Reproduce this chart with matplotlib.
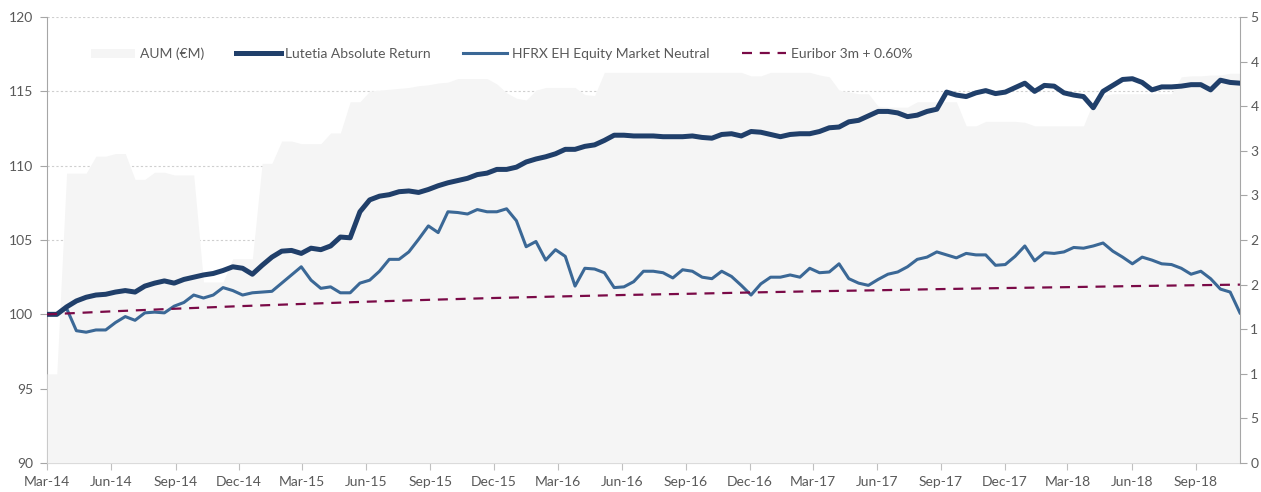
import numpy as np
import pandas as pd
import matplotlib
matplotlib.use("Agg")
import matplotlib.pyplot as plt
import matplotlib.dates as mdates
from matplotlib.patches import Patch
from matplotlib.lines import Line2D

# ------------------------------------------------------------
# DATA (fortnightly points)
# ------------------------------------------------------------
START = "2014-03-01"
N_POINTS = 123

lutetia = [
    100.0, 100.0, 100.5, 100.9, 101.15, 101.3, 101.35, 101.5, 101.6, 101.5,
    101.9, 102.1, 102.25, 102.1, 102.35, 102.5, 102.65, 102.75, 102.95, 103.2,
    103.1, 102.7, 103.3, 103.85, 104.25, 104.3, 104.1, 104.45, 104.35, 104.6,
    105.2, 105.15, 106.9, 107.7, 107.95, 108.05, 108.25, 108.3, 108.2, 108.4,
    108.65, 108.85, 109.0, 109.15, 109.4, 109.5, 109.75, 109.75, 109.9, 110.25,
    110.45, 110.6, 110.8, 111.1, 111.1, 111.3, 111.4, 111.7, 112.05, 112.05,
    112.0, 112.0, 112.0, 111.95, 111.95, 111.95, 112.0, 111.9, 111.85, 112.1,
    112.15, 112.0, 112.3, 112.25, 112.1, 111.95, 112.1, 112.15, 112.15, 112.3,
    112.55, 112.6, 112.95, 113.05, 113.35, 113.65, 113.65, 113.55, 113.3, 113.4,
    113.65, 113.8, 114.95, 114.75, 114.65, 114.9, 115.05, 114.85, 114.95, 115.25,
    115.55, 115.0, 115.4, 115.35, 114.9, 114.75, 114.65, 113.9, 115.0, 115.4,
    115.8, 115.85, 115.6, 115.1, 115.3, 115.3, 115.35, 115.45, 115.45, 115.1,
    115.75, 115.6, 115.55,
]

hfrx = [
    100.0, 100.05, 100.4, 98.9, 98.8, 98.95, 98.95, 99.45, 99.85, 99.6,
    100.1, 100.15, 100.1, 100.55, 100.8, 101.3, 101.1, 101.3, 101.8, 101.6,
    101.3, 101.45, 101.5, 101.55, 102.1, 102.65, 103.2, 102.3, 101.75, 101.85,
    101.45, 101.45, 102.1, 102.3, 102.9, 103.7, 103.7, 104.2, 105.05, 105.95,
    105.5, 106.9, 106.85, 106.75, 107.05, 106.9, 106.9, 107.1, 106.3, 104.55,
    104.9, 103.65, 104.35, 103.9, 101.9, 103.1, 103.05, 102.8, 101.8, 101.85,
    102.2, 102.9, 102.9, 102.8, 102.45, 103.0, 102.9, 102.5, 102.4, 102.9,
    102.55, 101.95, 101.3, 102.05, 102.5, 102.5, 102.65, 102.5, 103.1, 102.8,
    102.85, 103.4, 102.4, 102.1, 101.95, 102.35, 102.7, 102.85, 103.2, 103.7,
    103.85, 104.2, 104.0, 103.8, 104.1, 104.0, 104.0, 103.3, 103.35, 103.9,
    104.6, 103.6, 104.15, 104.1, 104.2, 104.5, 104.45, 104.6, 104.8, 104.25,
    103.85, 103.4, 103.85, 103.65, 103.4, 103.35, 103.1, 102.7, 102.9, 102.4,
    101.7, 101.5, 100.1,
]

aum = [
    100, 100, 325, 325, 325, 344, 344, 347, 347, 318,
    318, 326, 326, 323, 323, 323, 203, 203, 203, 229,
    229, 229, 336, 336, 361, 361, 358, 358, 358, 370,
    370, 405, 405, 417, 418, 419, 420, 421, 423, 424,
    426, 427, 431, 431, 431, 431, 425, 415, 409, 407,
    418, 421, 421, 421, 421, 413, 412, 438, 438, 438,
    438, 438, 438, 438, 438, 438, 438, 438, 438, 438,
    438, 438, 434, 434, 438, 438, 438, 438, 438, 435,
    433, 418, 416, 414, 414, 400, 399, 399, 399, 405,
    405, 405, 405, 405, 378, 378, 383, 383, 383, 383,
    382, 378, 378, 378, 378, 378, 378, 405, 412, 414,
    414, 414, 414, 414, 414, 414, 433, 434, 434, 435,
    435, 437, 437,
]

euribor_dates = [
    "2014-03-01", "2014-06-01", "2014-09-01", "2014-12-01", "2015-03-01",
    "2015-06-01", "2015-09-01", "2015-12-01", "2016-03-01", "2016-06-01",
    "2016-09-01", "2016-12-01", "2017-03-01", "2017-06-01", "2017-09-01",
    "2017-12-01", "2018-03-01", "2018-06-01", "2018-09-01", "2018-11-03",
]
euribor = [
    100.0, 100.2, 100.38, 100.55, 100.7, 100.85, 100.98, 101.1, 101.2, 101.3,
    101.38, 101.47, 101.55, 101.62, 101.7, 101.77, 101.83, 101.9, 101.96, 102.0,
]

right_ticks = [0, 50, 100, 150, 200, 250, 300, 350, 400, 450, 500]
left_ticks = [90, 95, 100, 105, 110, 115, 120]

# ------------------------------------------------------------
# STYLE
# ------------------------------------------------------------
plt.rcParams["font.family"] = ["Lato", "DejaVu Sans"]
FS = 10
TXT = "#595959"
AXC = "#a6a6a6"
C_LUT = "#203F6A"
C_HFRX = "#3B6896"
C_EUR = "#7A0A47"
C_AUM = "#f5f5f5"

dates = pd.date_range(START, periods=N_POINTS, freq="14D")
eur_dates = pd.to_datetime(euribor_dates)

fig = plt.figure(figsize=(12.61, 4.92), dpi=100)
ax = fig.add_axes([0.0373, 0.0589, 0.9460, 0.9065])

# bottom layer: gridlines + left axis
ax.set_ylim(90, 120)
ax.set_yticks(left_ticks)
ax.grid(axis="y", color="#cfcfcf", linestyle=(0, (2, 2)), linewidth=0.8)
ax.set_axisbelow(True)

# middle layer: AUM area on the right axis
ax2 = ax.twinx()
ax2.fill_between(dates, aum, 0, color=C_AUM, linewidth=0)
ax2.set_ylim(0, 500)
ax2.set_yticks(right_ticks)
# the source picture is cropped right after the first digit of these labels
ax2.set_yticklabels([str(t)[0] for t in right_ticks])

# top layer: return lines on the left scale
ax3 = ax.twinx()
ax3.set_ylim(90, 120)
ax3.plot(dates, hfrx, color=C_HFRX, linewidth=2.2, solid_joinstyle="round")
ax3.plot(dates, lutetia, color=C_LUT, linewidth=3.6, solid_joinstyle="round")
ax3.plot(eur_dates, euribor, color=C_EUR, linewidth=1.6, linestyle=(0, (4.5, 3.5)))
ax3.axis("off")

ax.set_xlim(pd.Timestamp("2014-03-01"), pd.Timestamp("2018-11-03"))
ax.xaxis.set_major_locator(mdates.MonthLocator(bymonth=[3, 6, 9, 12]))
ax.xaxis.set_major_formatter(mdates.DateFormatter("%b-%y"))

ax.spines["top"].set_visible(False)
ax2.spines["top"].set_visible(False)
ax.spines["right"].set_visible(False)
ax2.spines["left"].set_visible(False)
ax2.spines["bottom"].set_visible(False)
ax.spines["left"].set_color(AXC)
ax.spines["bottom"].set_color("#c0c0c0")
ax2.spines["right"].set_color(AXC)

ax.tick_params(axis="y", colors=AXC, labelcolor=TXT, length=5, pad=5, labelsize=FS)
ax.tick_params(axis="x", colors="#c0c0c0", labelcolor=TXT, length=5, pad=4, labelsize=FS)
ax2.tick_params(axis="y", colors=AXC, labelcolor=TXT, length=5, pad=2.5, labelsize=FS)

handles = [
    Patch(facecolor=C_AUM, edgecolor="none"),
    Line2D([], [], color=C_LUT, linewidth=3.6),
    Line2D([], [], color=C_HFRX, linewidth=2.2),
    Line2D([], [], color=C_EUR, linewidth=1.6, linestyle=(0, (4.5, 3.5))),
]
labels = ["AUM (\u20acM)", "Lutetia Absolute Return",
          "HFRX EH Equity Market Neutral", "Euribor 3m + 0.60%"]
leg = ax3.legend(handles, labels, loc="center", bbox_to_anchor=(0.381, 0.917),
                 ncol=4, frameon=False, handlelength=3.2, handleheight=0.7,
                 handletextpad=0.35, columnspacing=2.3, fontsize=FS)
for t in leg.get_texts():
    t.set_color(TXT)

fig.savefig("out.png", dpi=100)
